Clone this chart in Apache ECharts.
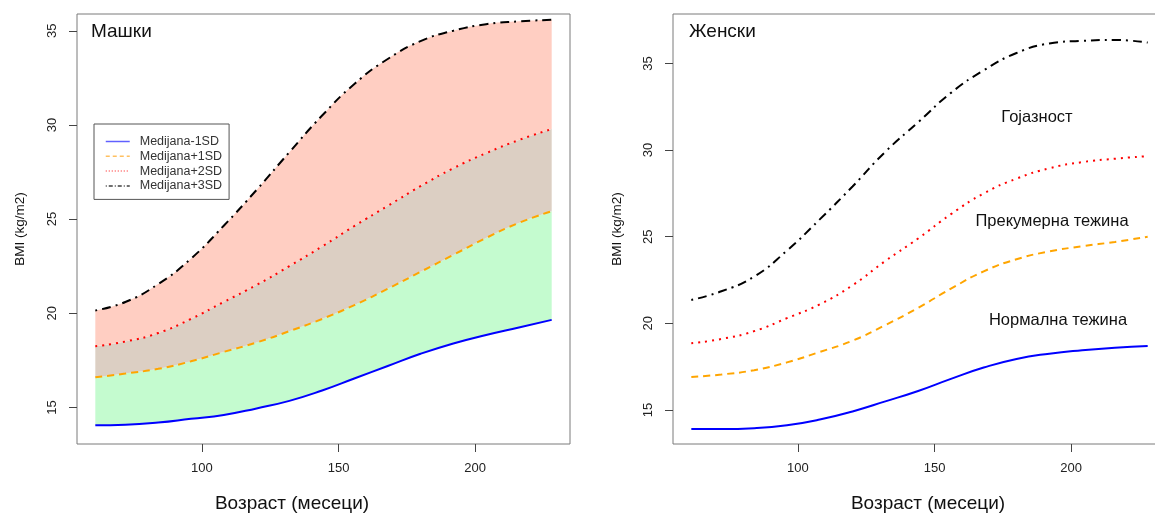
<!DOCTYPE html>
<html><head><meta charset="utf-8">
<script src="https://cdn.jsdelivr.net/npm/echarts@6/dist/echarts.min.js"></script>
<style>html,body{margin:0;padding:0;background:#fff;overflow:hidden}#c{width:1170px;height:513px}</style>
</head><body><div id="c"></div>
<script>
// ---- data ----
const months = [61, 72, 84, 96, 108, 120, 132, 144, 156, 168, 180, 192, 204, 216, 228];
// Boys (Машки)
const boysM1 = [14.05, 14.08, 14.2, 14.4, 14.6, 14.95, 15.35, 15.9, 16.55, 17.2, 17.85, 18.4, 18.85, 19.25, 19.65];
const boysP1 = [16.6, 16.8, 17.05, 17.45, 17.95, 18.45, 19.05, 19.7, 20.45, 21.3, 22.2, 23.1, 24.0, 24.8, 25.42];
const boysP2 = [18.25, 18.5, 18.95, 19.7, 20.6, 21.5, 22.5, 23.55, 24.65, 25.7, 26.75, 27.7, 28.5, 29.2, 29.78];
const boysP3 = [20.15, 20.6, 21.55, 22.9, 24.65, 26.55, 28.55, 30.5, 32.2, 33.5, 34.45, 35.0, 35.35, 35.5, 35.58];
// Girls (Женски)
const girlsM1 = [13.9, 13.9, 13.95, 14.12, 14.45, 14.92, 15.5, 16.1, 16.8, 17.45, 17.95, 18.25, 18.45, 18.6, 18.7];
const girlsP1 = [16.9, 17.05, 17.3, 17.75, 18.35, 19.0, 19.9, 20.9, 22.0, 23.0, 23.7, 24.15, 24.45, 24.7, 25.0];
const girlsP2 = [18.85, 19.1, 19.55, 20.3, 21.1, 22.2, 23.6, 24.9, 26.3, 27.5, 28.35, 28.95, 29.3, 29.5, 29.65];
const girlsP3 = [21.35, 21.85, 22.7, 24.2, 26.0, 27.9, 29.9, 31.6, 33.3, 34.6, 35.6, 36.15, 36.3, 36.35, 36.2];

const yTicks = [15, 20, 25, 30, 35];
const xTicks = [100, 150, 200];
const seriesNames = ['Medijana-1SD', 'Medijana+1SD', 'Medijana+2SD', 'Medijana+3SD'];
const zoneLabels = ['Гојазност', 'Прекумерна тежина', 'Нормална тежина'];
const panelTitles = ['Машки', 'Женски'];
const xTitle = 'Возраст (месеци)';
const yTitle = 'BMI (kg/m2)';

// ---- styles ----
const FONT = '"Liberation Sans", Arial, Helvetica, sans-serif';
const lineColors = ['#0000FF', '#FFA500', '#FF0000', '#000000'];
const legendColors = ['#6060FF', '#FFC060', '#FF6060', '#404040'];
const lineDash = ['solid', [7, 5], [2, 5], [2, 5, 9, 5]];
const legendDash = ['solid', [4, 3], [1, 2], [1, 2, 4, 2]];
const bandColors = ['#C4FBCF', '#DCCFC3', '#FFCEC2'];
const SMOOTH = 0.5;

const pairs = (arr) => months.map((m, i) => [m, arr[i]]);
// [value, month] order so that stacking happens on the value (y) dimension
const pairsYX = (arr) => months.map((m, i) => [arr[i], m]);
const diffYX = (a, b) => months.map((m, i) => [+(a[i] - b[i]).toFixed(3), m]);

const chart = echarts.init(document.getElementById('c'), null, { renderer: 'canvas' });

function xAxisCfg(gi) {
  return {
    type: 'value', gridIndex: gi, min: 54.3, max: 234.7,
    axisLine: { show: false },
    splitLine: { show: false },
    axisTick: { show: true, length: 8, lineStyle: { color: '#444' }, customValues: xTicks },
    axisLabel: { customValues: xTicks, fontFamily: FONT, fontSize: 13, color: '#222', margin: 18 }
  };
}
function yAxisCfg(gi, min, max) {
  return {
    type: 'value', gridIndex: gi, min: min, max: max,
    axisLine: { show: false },
    splitLine: { show: false },
    axisTick: { show: true, length: 8, lineStyle: { color: '#444' }, customValues: yTicks },
    axisLabel: { customValues: yTicks, rotate: 90, fontFamily: FONT, fontSize: 13, color: '#222', margin: 18 }
  };
}

const series = [];
// stacked bands (boys)
series.push({ name: 'base', type: 'line', xAxisIndex: 0, yAxisIndex: 0, stack: 'b', smooth: SMOOTH, symbol: 'none',
  encode: { x: 1, y: 0 }, lineStyle: { width: 0, opacity: 0 }, silent: true, data: pairsYX(boysM1), z: 1 });
const bandData = [diffYX(boysP1, boysM1), diffYX(boysP2, boysP1), diffYX(boysP3, boysP2)];
bandData.forEach((d, i) => {
  series.push({ name: 'band' + i, type: 'line', xAxisIndex: 0, yAxisIndex: 0, stack: 'b', smooth: SMOOTH, symbol: 'none',
    encode: { x: 1, y: 0 }, lineStyle: { width: 0, opacity: 0 }, areaStyle: { color: bandColors[i], opacity: 1 },
    silent: true, data: d, z: 1 });
});
const boys = [boysM1, boysP1, boysP2, boysP3];
const girls = [girlsM1, girlsP1, girlsP2, girlsP3];
boys.forEach((arr, i) => {
  series.push({ name: seriesNames[i], type: 'line', xAxisIndex: 0, yAxisIndex: 0, smooth: SMOOTH, symbol: 'none',
    lineStyle: { color: lineColors[i], width: 2, type: lineDash[i] }, itemStyle: { color: lineColors[i] },
    data: pairs(arr), z: 3 });
});
girls.forEach((arr, i) => {
  series.push({ name: seriesNames[i], type: 'line', xAxisIndex: 1, yAxisIndex: 1, smooth: SMOOTH, symbol: 'none',
    lineStyle: { color: lineColors[i], width: 2, type: lineDash[i] }, itemStyle: { color: lineColors[i] },
    data: pairs(arr), z: 3 });
});

function boxedLabel(text, cx, cy, w, h, size) {
  return { type: 'group', z: 10, children: [
    { type: 'rect', shape: { x: cx - w / 2, y: cy - h / 2, width: w, height: h }, style: { fill: '#fff' } },
    { type: 'text', x: cx, y: cy, style: { text: text, fontFamily: FONT, fontSize: size, fill: '#111', align: 'center', verticalAlign: 'middle' } }
  ]};
}
function plainText(text, x, y, size, align, rot) {
  return { type: 'text', x: x, y: y, rotation: rot || 0, z: 10,
    style: { text: text, fontFamily: FONT, fontSize: size, fill: '#111', align: align, verticalAlign: 'middle' } };
}

const graphics = [
  plainText(panelTitles[0], 91, 31.5, 19, 'left'),
  plainText(panelTitles[1], 689, 31.5, 19, 'left'),
  plainText(xTitle, 292, 504, 19, 'center'),
  plainText(xTitle, 928, 504, 19, 'center'),
  plainText(yTitle, 20, 229, 13.5, 'center', Math.PI / 2),
  plainText(yTitle, 617, 229, 13.5, 'center', Math.PI / 2),
  boxedLabel(zoneLabels[0], 439.5, 103, 101, 20, 17),
  boxedLabel(zoneLabels[1], 432, 222.5, 150, 21, 16),
  boxedLabel(zoneLabels[2], 430.5, 310, 151, 20, 16),
  plainText(zoneLabels[0], 1037, 117, 16.5, 'center'),
  plainText(zoneLabels[1], 1052, 221, 16.5, 'center'),
  plainText(zoneLabels[2], 1058, 320, 16.5, 'center')
];

chart.setOption({
  animation: false,
  backgroundColor: '#fff',
  grid: [
    { left: 77, top: 14, width: 493, height: 430, show: true, borderColor: '#7a7a7a', borderWidth: 1, containLabel: false },
    { left: 673, top: 14, width: 493, height: 430, show: true, borderColor: '#7a7a7a', borderWidth: 1, containLabel: false }
  ],
  xAxis: [xAxisCfg(0), xAxisCfg(1)],
  yAxis: [yAxisCfg(0, 13.06, 35.89), yAxisCfg(1, 13.04, 37.85)],
  legend: {
    data: seriesNames.map((n, i) => ({
      name: n,
      lineStyle: { color: legendColors[i], width: 1.5, type: legendDash[i] },
      itemStyle: { opacity: 0 }
    })),
    orient: 'vertical', left: 94, top: 124,
    backgroundColor: '#fff', borderColor: '#555', borderWidth: 1,
    padding: [11, 7, 7, 11], itemGap: 1.8, itemWidth: 24, itemHeight: 10,
    textStyle: { fontFamily: FONT, fontSize: 12.5, color: '#333', lineHeight: 13, padding: [0, 0, 0, 5] },
    selectedMode: false
  },
  series: series,
  graphic: graphics
});
</script>
</body></html>
